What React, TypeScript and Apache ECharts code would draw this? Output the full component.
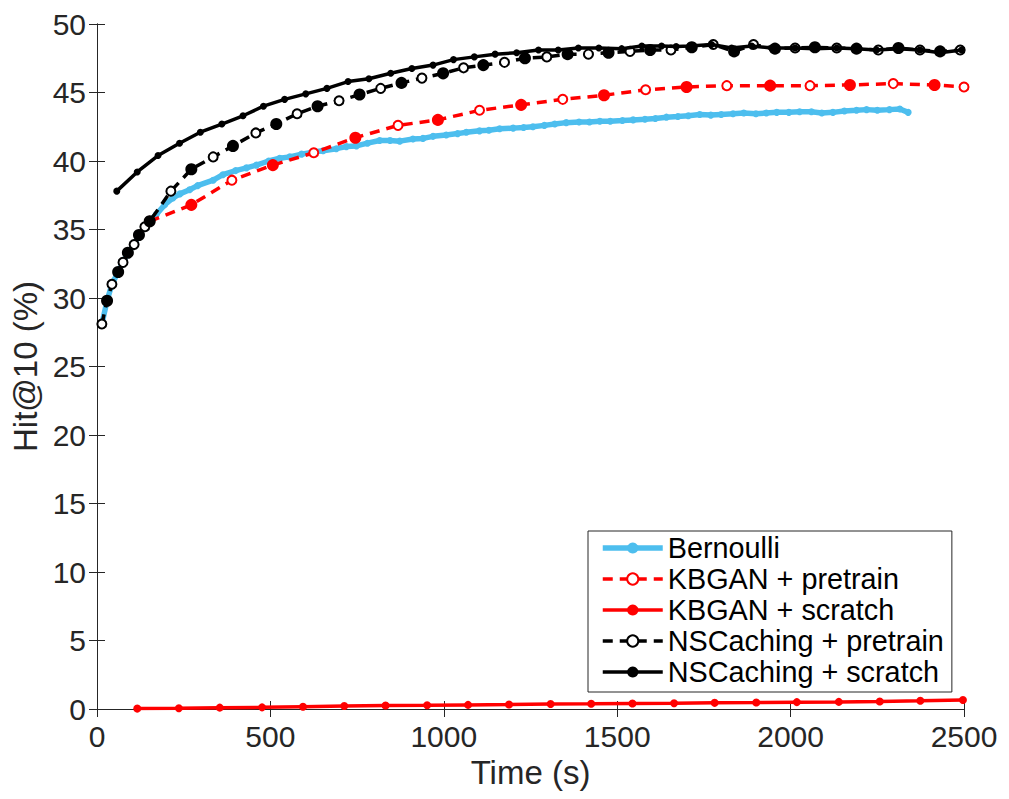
import React, { useEffect, useRef } from "react";
import * as echarts from "echarts";

const xTicks = [0, 500, 1000, 1500, 2000, 2500];
const yTicks = [0, 5, 10, 15, 20, 25, 30, 35, 40, 45, 50];

const bernoulliT = [14, 29, 43, 61, 75, 89, 107, 121, 138, 152, 171, 195, 219, 239, 267, 290, 335, 363, 400, 431, 460, 495, 527, 556, 590, 623, 652, 690, 719, 748, 780, 815, 845, 873, 911, 940, 969, 1007, 1040, 1065, 1103, 1130, 1161, 1200, 1230, 1257, 1290, 1320, 1353, 1390, 1420, 1450, 1480, 1515, 1546, 1580, 1610, 1642, 1675, 1705, 1738, 1770, 1800, 1834, 1865, 1900, 1930, 1960, 1995, 2026, 2060, 2090, 2122, 2155, 2190, 2219, 2250, 2285, 2315, 2339];
const bernoulliV = [28.1, 29.8, 31.0, 31.9, 32.6, 33.3, 33.9, 34.6, 35.2, 35.6, 36.1, 36.8, 37.3, 37.6, 37.9, 38.2, 38.6, 39.0, 39.3, 39.5, 39.7, 40.0, 40.2, 40.3, 40.5, 40.65, 40.75, 40.9, 41.05, 41.1, 41.3, 41.5, 41.5, 41.45, 41.6, 41.65, 41.8, 41.9, 42.0, 42.1, 42.2, 42.25, 42.35, 42.4, 42.45, 42.5, 42.6, 42.7, 42.8, 42.85, 42.85, 42.9, 42.9, 42.95, 43.0, 43.05, 43.1, 43.2, 43.25, 43.3, 43.4, 43.35, 43.4, 43.45, 43.5, 43.45, 43.5, 43.55, 43.55, 43.6, 43.6, 43.5, 43.55, 43.65, 43.7, 43.75, 43.7, 43.75, 43.8, 43.55];

const kbganPreT = [152, 272, 389, 507, 625, 745, 868, 983, 1103, 1223, 1343, 1462, 1582, 1700, 1816, 1941, 2056, 2171, 2296, 2415, 2500];
const kbganPreV = [35.6, 36.8, 38.6, 39.7, 40.6, 41.7, 42.6, 43.0, 43.7, 44.1, 44.5, 44.8, 45.2, 45.4, 45.5, 45.5, 45.5, 45.55, 45.65, 45.55, 45.4];

const kbganScrT = [116, 236, 354, 476, 594, 713, 832, 952, 1070, 1188, 1308, 1425, 1544, 1664, 1781, 1901, 2018, 2139, 2257, 2374, 2497];
const kbganScrV = [0.03, 0.05, 0.1, 0.12, 0.17, 0.22, 0.25, 0.27, 0.3, 0.33, 0.37, 0.38, 0.4, 0.42, 0.45, 0.47, 0.5, 0.52, 0.55, 0.6, 0.66];

const nscPreT = [14, 29, 43, 61, 75, 89, 107, 121, 138, 152, 213, 272, 335, 392, 458, 517, 577, 636, 698, 757, 818, 878, 937, 998, 1057, 1114, 1175, 1234, 1297, 1357, 1417, 1475, 1537, 1595, 1655, 1715, 1777, 1837, 1893, 1955, 2013, 2070, 2133, 2190, 2253, 2311, 2373, 2431, 2489];
const nscPreV = [28.1, 29.8, 31.0, 31.9, 32.6, 33.3, 33.9, 34.6, 35.2, 35.6, 37.8, 39.4, 40.3, 41.1, 42.05, 42.7, 43.45, 44.0, 44.4, 44.85, 45.3, 45.7, 46.05, 46.4, 46.8, 47.0, 47.2, 47.5, 47.6, 47.8, 47.8, 47.9, 48.0, 48.1, 48.1, 48.3, 48.5, 48.0, 48.5, 48.2, 48.25, 48.3, 48.25, 48.2, 48.1, 48.25, 48.1, 48.0, 48.1];

const nscScrT = [57, 116, 176, 238, 298, 360, 421, 480, 541, 602, 663, 724, 784, 847, 908, 969, 1028, 1088, 1148, 1210, 1273, 1330, 1388, 1447, 1513, 1571, 1628, 1670, 1710, 1772, 1830, 1888, 1945, 2013, 2070, 2133, 2190, 2248, 2311, 2373, 2431, 2493];
const nscScrV = [37.8, 39.2, 40.4, 41.3, 42.1, 42.7, 43.3, 44.0, 44.5, 44.9, 45.3, 45.8, 46.0, 46.4, 46.75, 47.0, 47.4, 47.6, 47.8, 47.9, 48.1, 48.1, 48.25, 48.25, 48.2, 48.4, 48.4, 48.35, 48.4, 48.5, 48.25, 48.4, 48.25, 48.25, 48.2, 48.25, 48.2, 48.1, 48.2, 48.1, 47.9, 48.1];

const seriesNames = ["Bernoulli", "KBGAN + pretrain", "KBGAN + scratch", "NSCaching + pretrain", "NSCaching + scratch"];

const FONT = "Liberation Sans, Arial, Helvetica, sans-serif";
const AX = "#262626";
const BLUE = "#4DBEEE";
const RED = "#FF0000";
const BLACK = "#000000";

function pairs(t: number[], v: number[]) {
  return t.map((x, i) => [x, v[i]]);
}
function pretrainData(t: number[], v: number[]) {
  return t.map((x, i) => ({ value: [x, v[i]], symbol: i % 2 === 1 ? "circle" : "emptyCircle" }));
}

export default function App() {
  const ref = useRef<HTMLDivElement>(null);
  useEffect(() => {
    if (!ref.current) return;
    const chart = echarts.init(ref.current, undefined, { renderer: "svg" });
    const axisCommon = {
      type: "value" as const,
      axisLine: { show: true, lineStyle: { color: AX, width: 1 } },
      axisTick: { show: true, inside: true, length: 8, lineStyle: { color: AX, width: 1 } },
      splitLine: { show: false },
    };
    chart.setOption({
      animation: false,
      backgroundColor: "#ffffff",
      textStyle: { fontFamily: FONT },
      grid: { left: 97, top: 24, right: 45, bottom: 90, containLabel: false },
      xAxis: [
        {
          ...axisCommon,
          min: 0,
          max: 2500,
          interval: 500,
          name: "Time (s)",
          nameLocation: "middle",
          nameGap: 38,
          nameTextStyle: { fontSize: 33, color: AX, fontFamily: FONT },
          axisLabel: { fontSize: 30, color: AX, margin: 12, fontFamily: FONT, formatter: (v: number) => (xTicks.includes(v) ? String(v) : "") },
        },
        {
          ...axisCommon,
          position: "top",
          min: 0,
          max: 2500,
          interval: 500,
          axisLabel: { show: false },
        },
      ],
      yAxis: [
        {
          ...axisCommon,
          min: 0,
          max: 50,
          interval: 5,
          name: "Hit@10 (%)",
          nameLocation: "middle",
          nameGap: 50,
          nameTextStyle: { fontSize: 33, color: AX, fontFamily: FONT },
          axisLabel: { fontSize: 30, color: AX, margin: 11, fontFamily: FONT, formatter: (v: number) => (yTicks.includes(v) ? String(v) : "") },
        },
        {
          ...axisCommon,
          position: "right",
          min: 0,
          max: 50,
          interval: 5,
          axisLabel: { show: false },
        },
      ],
      legend: {
        orient: "vertical",
        left: 588,
        top: 531,
        backgroundColor: "#ffffff",
        borderColor: AX,
        borderWidth: 1,
        borderRadius: 0,
        padding: [2, 8, 5, 12],
        itemWidth: 60,
        itemHeight: 14,
        itemGap: 1,
        lineStyle: { width: "inherit" },
        itemStyle: { borderWidth: "inherit" },
        textStyle: { fontSize: 28.8, color: "#000", fontFamily: FONT, lineHeight: 30, padding: [0, 0, 0, 0] },
        data: seriesNames,
      },
      series: [
        {
          name: seriesNames[0],
          type: "line",
          data: pairs(bernoulliT, bernoulliV),
          symbol: "circle",
          symbolSize: 7,
          showAllSymbol: true,
          lineStyle: { color: BLUE, width: 5.5 },
          itemStyle: { color: BLUE },
          z: 2,
        },
        {
          name: seriesNames[1],
          type: "line",
          data: pretrainData(kbganPreT, kbganPreV),
          symbol: "emptyCircle",
          symbolSize: 9,
          showAllSymbol: true,
          lineStyle: { color: RED, width: 3.5, type: [10, 7] },
          itemStyle: { color: RED, borderColor: RED, borderWidth: 3 },
          z: 3,
        },
        {
          name: seriesNames[2],
          type: "line",
          data: pairs(kbganScrT, kbganScrV),
          symbol: "circle",
          symbolSize: 8,
          showAllSymbol: true,
          lineStyle: { color: RED, width: 3.5 },
          itemStyle: { color: RED },
          z: 4,
        },
        {
          name: seriesNames[3],
          type: "line",
          data: pretrainData(nscPreT, nscPreV),
          symbol: "emptyCircle",
          symbolSize: 9,
          showAllSymbol: true,
          lineStyle: { color: BLACK, width: 3.5, type: [10, 7] },
          itemStyle: { color: BLACK, borderColor: BLACK, borderWidth: 3 },
          z: 5,
        },
        {
          name: seriesNames[4],
          type: "line",
          data: pairs(nscScrT, nscScrV),
          symbol: "circle",
          symbolSize: 7,
          showAllSymbol: true,
          lineStyle: { color: BLACK, width: 3.5 },
          itemStyle: { color: BLACK },
          z: 6,
        },
      ],
    });
    return () => chart.dispose();
  }, []);
  return <div ref={ref} style={{ position: "absolute", left: 0, top: 0, width: 1009, height: 799 }} />;
}
